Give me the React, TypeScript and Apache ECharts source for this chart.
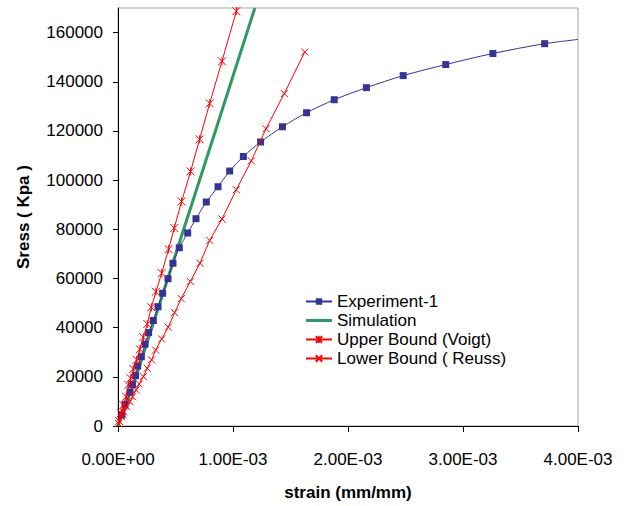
import React, { useEffect, useRef } from "react";
import * as echarts from "echarts";

const expStrain = [0.000035, 0.000061, 0.000104, 0.000127, 0.000153, 0.000171, 0.000203, 0.000235, 0.000266, 0.000307, 0.000348, 0.000388, 0.000435, 0.000478, 0.000533, 0.000606, 0.000678, 0.000768, 0.00087, 0.000971, 0.00109, 0.00124, 0.00143, 0.00164, 0.00188, 0.00216, 0.00248, 0.00285, 0.00326, 0.00371];
const expStress = [4500, 8800, 13700, 16800, 20500, 24400, 28200, 33300, 38000, 42900, 48500, 54000, 59900, 66200, 72500, 78500, 84300, 91100, 97300, 103700, 109600, 115500, 121700, 127400, 132700, 137600, 142500, 147000, 151500, 155500];
const expTail = [0.004, 157200];

const simStrain = [0, 0.00015, 0.000315, 0.000518, 0.000847, 0.00119];
const simStress = [0, 19000, 42900, 72300, 120000, 170000];

const upStrain = [0.00001, 0.000026, 0.000046, 0.00007, 0.00009, 0.00011, 0.000133, 0.000162, 0.00019, 0.00022, 0.000255, 0.00029, 0.00033, 0.00038, 0.00044, 0.000489, 0.000553, 0.000631, 0.00071, 0.000797, 0.000904, 0.001029, 0.00108];
const upStress = [2000, 5200, 8500, 11900, 16700, 19400, 23200, 26900, 31200, 36100, 41500, 48300, 54600, 62200, 71900, 80500, 91300, 103500, 116600, 131200, 148300, 168700, 177000];

const lowStrain = [0.000005, 0.000032, 0.000052, 0.000075, 0.000104, 0.000127, 0.000157, 0.000185, 0.00022, 0.000254, 0.000292, 0.000327, 0.00038, 0.000437, 0.000492, 0.00055, 0.000629, 0.000713, 0.000797, 0.000904, 0.001029, 0.001159, 0.001287, 0.001446, 0.001624];
const lowStress = [1000, 3800, 5800, 7900, 9900, 11900, 14700, 17100, 20100, 23500, 26900, 30900, 35400, 40200, 46100, 51800, 58800, 66200, 75500, 84200, 96100, 107800, 120900, 135200, 152100];

const yTicks = [0, 20000, 40000, 60000, 80000, 100000, 120000, 140000, 160000];
const xTicks = [0, 0.001, 0.002, 0.003, 0.004];

const seriesNames = ["Experiment-1", "Simulation", "Upper Bound (Voigt)", "Lower Bound ( Reuss)"];

const zip = (a: number[], b: number[]) => a.map((v, i) => [v, b[i]]);

function fmtExp(v: number): string {
  if (Math.abs(v) < 1e-12) return "0.00E+00";
  const [m, e] = v.toExponential(2).split("e");
  const n = parseInt(e, 10);
  return m + "E" + (n < 0 ? "-" : "+") + String(Math.abs(n)).padStart(2, "0");
}

const FONT = "Liberation Sans, Arial, sans-serif";
const STAR = "path://M0,0L10,10M10,0L0,10M5,0L5,10";
const CROSS = "path://M0,0L10,10M10,0L0,10";
const THICK_LINE = "path://M0,0H26V3H0Z";

export default function App() {
  const ref = useRef<HTMLDivElement>(null);
  useEffect(() => {
    if (!ref.current) return;
    const chart = echarts.init(ref.current, null, { renderer: "svg" });
    const expData: any[] = zip(expStrain, expStress);
    expData.push({ value: expTail, symbol: "none" });
    chart.setOption({
      animation: false,
      backgroundColor: "#ffffff",
      textStyle: { fontFamily: FONT },
      grid: {
        left: 118,
        right: 46,
        top: 8,
        bottom: 80,
        show: true,
        borderColor: "#a6a6a6",
        borderWidth: 1,
        outerBoundsMode: "none",
      },
      legend: {
        data: [
          seriesNames[0],
          { name: seriesNames[1], icon: THICK_LINE },
          seriesNames[2],
          seriesNames[3],
        ],
        orient: "vertical",
        left: 305,
        top: 293,
        itemWidth: 26,
        itemHeight: 8,
        itemGap: 2,
        textStyle: { fontSize: 17, color: "#000", fontFamily: FONT, lineHeight: 17 },
        padding: 0,
      },
      xAxis: {
        type: "value",
        min: 0,
        max: 0.004,
        interval: 0.001,
        name: "strain (mm/mm)",
        nameLocation: "middle",
        nameGap: 58,
        nameTextStyle: { fontSize: 17, fontWeight: "bold", color: "#000", fontFamily: FONT },
        axisLine: { show: true, lineStyle: { color: "#000", width: 1 } },
        axisTick: { show: true, length: 6, lineStyle: { color: "#000" }, customValues: xTicks },
        axisLabel: { fontSize: 17, color: "#000", margin: 25, formatter: (v: number) => fmtExp(v), customValues: xTicks },
        splitLine: { show: false },
      },
      yAxis: {
        type: "value",
        min: 0,
        max: 170000,
        interval: 20000,
        name: "Sress ( Kpa )",
        nameLocation: "middle",
        nameGap: 86,
        nameTextStyle: { fontSize: 17, fontWeight: "bold", color: "#000", fontFamily: FONT },
        axisLine: { show: true, lineStyle: { color: "#000", width: 1 } },
        axisTick: { show: true, length: 5, lineStyle: { color: "#000" }, customValues: yTicks },
        axisLabel: { fontSize: 17, color: "#000", margin: 15, formatter: (v: number) => String(Math.round(v)), customValues: yTicks },
        splitLine: { show: false },
      },
      series: [
        {
          name: "Simulation",
          type: "line",
          data: zip(simStrain, simStress),
          symbol: "none",
          showSymbol: false,
          lineStyle: { color: "#2e9960", width: 3 },
          itemStyle: { color: "#2e9960" },
          z: 2,
        },
        {
          name: "Experiment-1",
          type: "line",
          data: expData,
          smooth: 0.3,
          symbol: "rect",
          symbolSize: 7,
          lineStyle: { color: "#333399", width: 1 },
          itemStyle: { color: "#333399" },
          z: 3,
        },
        {
          name: "Upper Bound (Voigt)",
          type: "line",
          data: zip(upStrain, upStress),
          symbol: STAR,
          symbolSize: 8,
          lineStyle: { color: "#ff0000", width: 1 },
          itemStyle: { color: "#ff0000", borderColor: "#ff0000", borderWidth: 1 },
          z: 4,
        },
        {
          name: "Lower Bound ( Reuss)",
          type: "line",
          data: zip(lowStrain, lowStress),
          symbol: CROSS,
          symbolSize: 7,
          lineStyle: { color: "#ff0000", width: 1 },
          itemStyle: { color: "#ff0000", borderColor: "#ff0000", borderWidth: 1 },
          z: 4,
        },
      ],
    });
    return () => chart.dispose();
  }, []);
  return (
    <div
      ref={ref}
      style={{ position: "fixed", left: 0, top: 0, width: 624, height: 506, background: "#fff" }}
    />
  );
}
